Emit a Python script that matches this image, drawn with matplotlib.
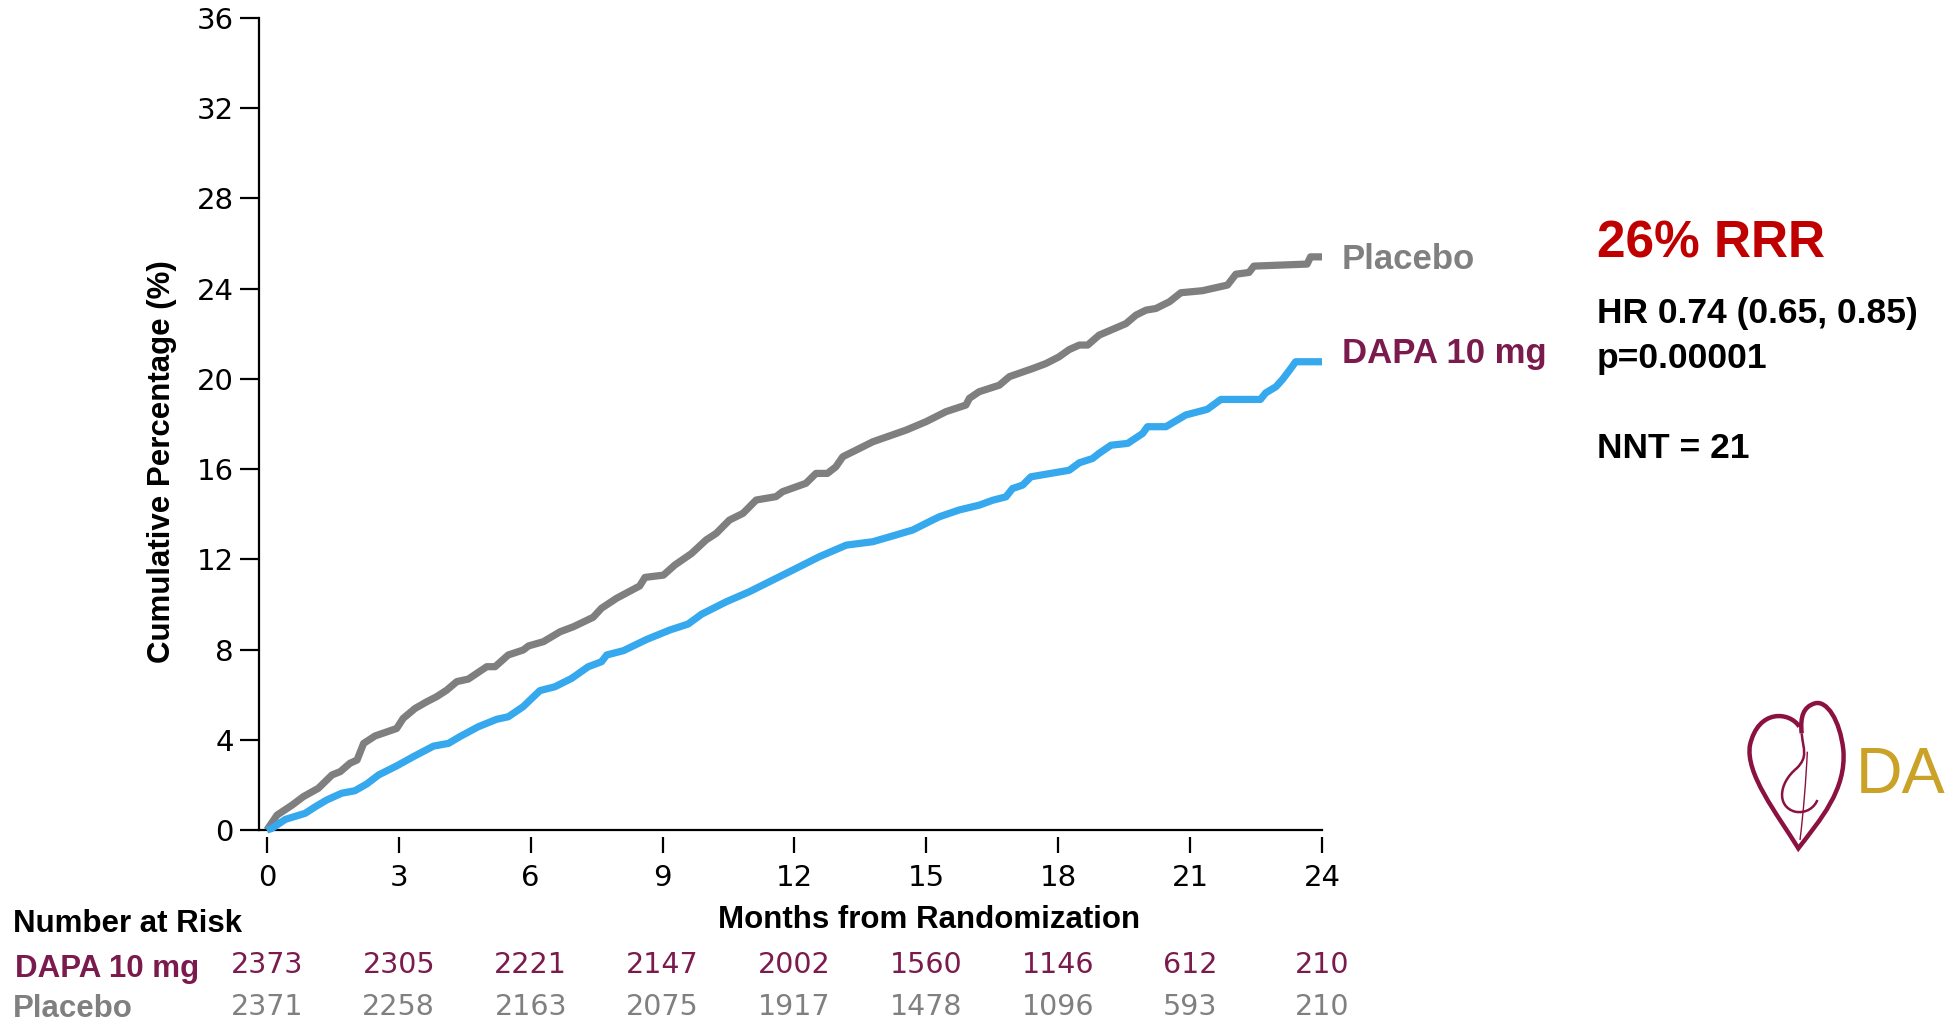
import matplotlib
matplotlib.use("Agg")
import matplotlib.pyplot as plt
import matplotlib.transforms as mtransforms
from matplotlib.path import Path
from matplotlib.patches import PathPatch

# ---------------- data ----------------
placebo_months = [0, 0.23, 0.57, 0.83, 1.17, 1.48, 1.67, 1.89, 2.05, 2.2, 2.46, 2.95, 3.1, 3.37,
                  3.64, 3.86, 4.09, 4.32, 4.58, 5.0, 5.19, 5.49, 5.83, 5.95, 6.29, 6.67, 6.97,
                  7.42, 7.61, 7.95, 8.48, 8.6, 9.02, 9.28, 9.66, 9.99, 10.22, 10.52, 10.83,
                  11.13, 11.58, 11.73, 12.26, 12.49, 12.75, 12.94, 13.1, 13.4, 13.78, 14.54,
                  14.99, 15.45, 15.9, 15.98, 16.2, 16.66, 16.89, 17.42, 17.72, 18.02, 18.25,
                  18.48, 18.67, 18.93, 19.54, 19.77, 20.0, 20.22, 20.53, 20.79, 21.28, 21.85,
                  22.04, 22.34, 22.45, 23.66, 23.74, 24.0]
placebo_pct = [0, 0.66, 1.1, 1.48, 1.85, 2.44, 2.59, 2.96, 3.1, 3.84, 4.17, 4.5, 4.95, 5.39,
               5.69, 5.91, 6.2, 6.58, 6.69, 7.24, 7.24, 7.76, 7.98, 8.16, 8.35, 8.79, 9.01,
               9.43, 9.83, 10.27, 10.82, 11.2, 11.3, 11.75, 12.26, 12.86, 13.15, 13.74, 14.04,
               14.63, 14.78, 15.0, 15.37, 15.81, 15.81, 16.1, 16.55, 16.84, 17.21, 17.73,
               18.1, 18.55, 18.84, 19.14, 19.43, 19.72, 20.1, 20.46, 20.68, 20.98, 21.3,
               21.5, 21.5, 21.94, 22.45, 22.83, 23.05, 23.12, 23.42, 23.82, 23.91, 24.16,
               24.64, 24.72, 25.0, 25.09, 25.41, 25.41]

dapa_months = [0, 0.11, 0.42, 0.87, 1.1, 1.36, 1.7, 2.0, 2.27, 2.54, 2.95, 3.33, 3.79, 4.13,
               4.39, 4.81, 5.23, 5.49, 5.83, 6.21, 6.55, 6.93, 7.31, 7.61, 7.73, 8.11, 8.64,
               9.17, 9.58, 9.89, 10.45, 10.97, 11.66, 12.04, 12.57, 13.18, 13.78, 14.31,
               14.69, 15.14, 15.3, 15.75, 16.2, 16.51, 16.81, 16.96, 17.19, 17.38, 18.25,
               18.48, 18.78, 18.93, 19.2, 19.58, 19.92, 20.03, 20.45, 20.9, 21.39, 21.7, 22.6,
               22.72, 22.95, 23.1, 23.29, 23.4, 24.0]
dapa_pct = [0, 0.07, 0.47, 0.74, 1.03, 1.33, 1.63, 1.74, 2.04, 2.44, 2.84, 3.25, 3.72, 3.84,
            4.14, 4.58, 4.91, 5.02, 5.47, 6.18, 6.35, 6.72, 7.24, 7.46, 7.76, 7.95, 8.45,
            8.87, 9.13, 9.57, 10.12, 10.56, 11.23, 11.6, 12.12, 12.63, 12.78, 13.08,
            13.3, 13.74, 13.89, 14.19, 14.4, 14.62, 14.77, 15.14, 15.29, 15.66, 15.95,
            16.28, 16.47, 16.7, 17.06, 17.14, 17.58, 17.88, 17.88, 18.4, 18.65, 19.09, 19.09,
            19.38, 19.65, 19.97, 20.46, 20.76, 20.76]

risk_months = [0, 3, 6, 9, 12, 15, 18, 21, 24]
dapa_at_risk = [2373, 2305, 2221, 2147, 2002, 1560, 1146, 612, 210]
placebo_at_risk = [2371, 2258, 2163, 2075, 1917, 1478, 1096, 593, 210]

y_ticks = [0, 4, 8, 12, 16, 20, 24, 28, 32, 36]
x_ticks = [0, 3, 6, 9, 12, 15, 18, 21, 24]

# ---------------- styles ----------------
GRAY_LINE = "#7f7f7f"
BLUE_LINE = "#35a8ee"
MAROON = "#7b1a4c"
GRAY_TXT = "#808080"
RED = "#c00000"
GOLD = "#c9a227"
HEART = "#8b1140"
BOLD = "Liberation Sans"
NUM = "DejaVu Sans"

W, H = 1949, 1021
fig = plt.figure(figsize=(W / 100, H / 100), dpi=100)
fig.patch.set_facecolor("white")


def fx(px):
    return px / W


def fy(py):
    return 1 - py / H


ax = fig.add_axes([fx(259), fy(830), fx(1322) - fx(259), fy(18) - fy(830)])
ax.set_xlim(-0.18, 24)
ax.set_ylim(0, 36)

ax.plot(placebo_months, placebo_pct, color=GRAY_LINE, lw=5.2, solid_joinstyle="round",
        solid_capstyle="butt", clip_on=False, zorder=3)
ax.plot(dapa_months, dapa_pct, color=BLUE_LINE, lw=5.2, solid_joinstyle="round",
        solid_capstyle="butt", clip_on=False, zorder=3)

for s in ["top", "right"]:
    ax.spines[s].set_visible(False)
ax.spines["left"].set_linewidth(1.6)
ax.spines["bottom"].set_position(("outward", 5))
ax.spines["bottom"].set_visible(False)
ax.axhline(0, color="black", lw=1.6, clip_on=False, zorder=2)

ax.set_yticks(y_ticks)
ax.set_xticks(x_ticks)
ax.tick_params(axis="y", direction="out", length=14, width=1.6, pad=4, labelsize=21)
ax.tick_params(axis="x", direction="out", length=11.5, width=1.6, pad=8, labelsize=21)
for lab in ax.get_xticklabels() + ax.get_yticklabels():
    lab.set_fontfamily(NUM)

# axis titles
fig.text(fx(162), fy(462), "Cumulative Percentage (%)", rotation=90, ha="center", va="center",
         fontsize=22.5, fontweight="bold", family=BOLD, color="black")
fig.text(fx(929), fy(928), "Months from Randomization", ha="center", va="baseline",
         fontsize=22.5, fontweight="bold", family=BOLD, color="black")

# curve labels
fig.text(fx(1342), fy(269), "Placebo", ha="left", va="baseline", fontsize=25,
         fontweight="bold", family=BOLD, color=GRAY_TXT)
fig.text(fx(1342), fy(363), "DAPA 10 mg", ha="left", va="baseline", fontsize=25,
         fontweight="bold", family=BOLD, color=MAROON)

# statistics
fig.text(fx(1597), fy(257), "26% RRR", ha="left", va="baseline", fontsize=37,
         fontweight="bold", family=BOLD, color=RED)
fig.text(fx(1597), fy(323), "HR 0.74 (0.65, 0.85)", ha="left", va="baseline", fontsize=25.5,
         fontweight="bold", family=BOLD, color="black")
fig.text(fx(1597), fy(368), "p=0.00001", ha="left", va="baseline", fontsize=25.5,
         fontweight="bold", family=BOLD, color="black")
fig.text(fx(1597), fy(458), "NNT = 21", ha="left", va="baseline", fontsize=25.5,
         fontweight="bold", family=BOLD, color="black")

# number at risk table
fig.text(fx(13), fy(932), "Number at Risk", ha="left", va="baseline", fontsize=22.5,
         fontweight="bold", family=BOLD, color="black")
fig.text(fx(15), fy(977), "DAPA 10 mg", ha="left", va="baseline", fontsize=22.5,
         fontweight="bold", family=BOLD, color=MAROON)
fig.text(fx(13), fy(1017), "Placebo", ha="left", va="baseline", fontsize=22.5,
         fontweight="bold", family=BOLD, color=GRAY_TXT)

blend = mtransforms.blended_transform_factory(ax.transData, fig.transFigure)
for m, d, p in zip(risk_months, dapa_at_risk, placebo_at_risk):
    ax.text(m, fy(973), str(d), transform=blend, ha="center", va="baseline", fontsize=20.5,
            family=NUM, color=MAROON, clip_on=False)
    ax.text(m, fy(1015), str(p), transform=blend, ha="center", va="baseline", fontsize=20.5,
            family=NUM, color=GRAY_TXT, clip_on=False)

# logo (heart outline + partial wordmark)
def zc(zx, zy):
    return (fx(1700 + zx / 3), fy(680 + zy / 3))

outer = [(298, 140), (270, 95), (175, 85), (150, 195), (135, 280), (230, 400), (295, 505),
         (360, 420), (440, 330), (430, 210), (420, 120), (380, 60), (345, 70),
         (310, 80), (300, 110), (305, 160)]
inner = [(305, 160), (310, 210), (325, 230), (290, 265), (235, 310), (230, 380), (285, 395),
         (320, 402), (345, 380), (352, 360)]
stem = [(322, 215), (318, 300), (310, 400), (300, 480)]

def make_path(pts):
    verts = [zc(*p) for p in pts]
    codes = [Path.MOVETO] + [Path.CURVE4] * (len(verts) - 1)
    return Path(verts, codes)

fig.patches.append(PathPatch(make_path(outer), facecolor="none", edgecolor=HEART, lw=3.2,
                             transform=fig.transFigure, figure=fig))
fig.patches.append(PathPatch(make_path(inner), facecolor="none", edgecolor=HEART, lw=1.8,
                             transform=fig.transFigure, figure=fig))
fig.patches.append(PathPatch(make_path(stem), facecolor="none", edgecolor=HEART, lw=1.0,
                             transform=fig.transFigure, figure=fig))
fig.text(fx(1856), fy(793), "DA", ha="left", va="baseline", fontsize=46.5, family=BOLD,
         color=GOLD)

fig.savefig("out.png", dpi=100, facecolor="white")
